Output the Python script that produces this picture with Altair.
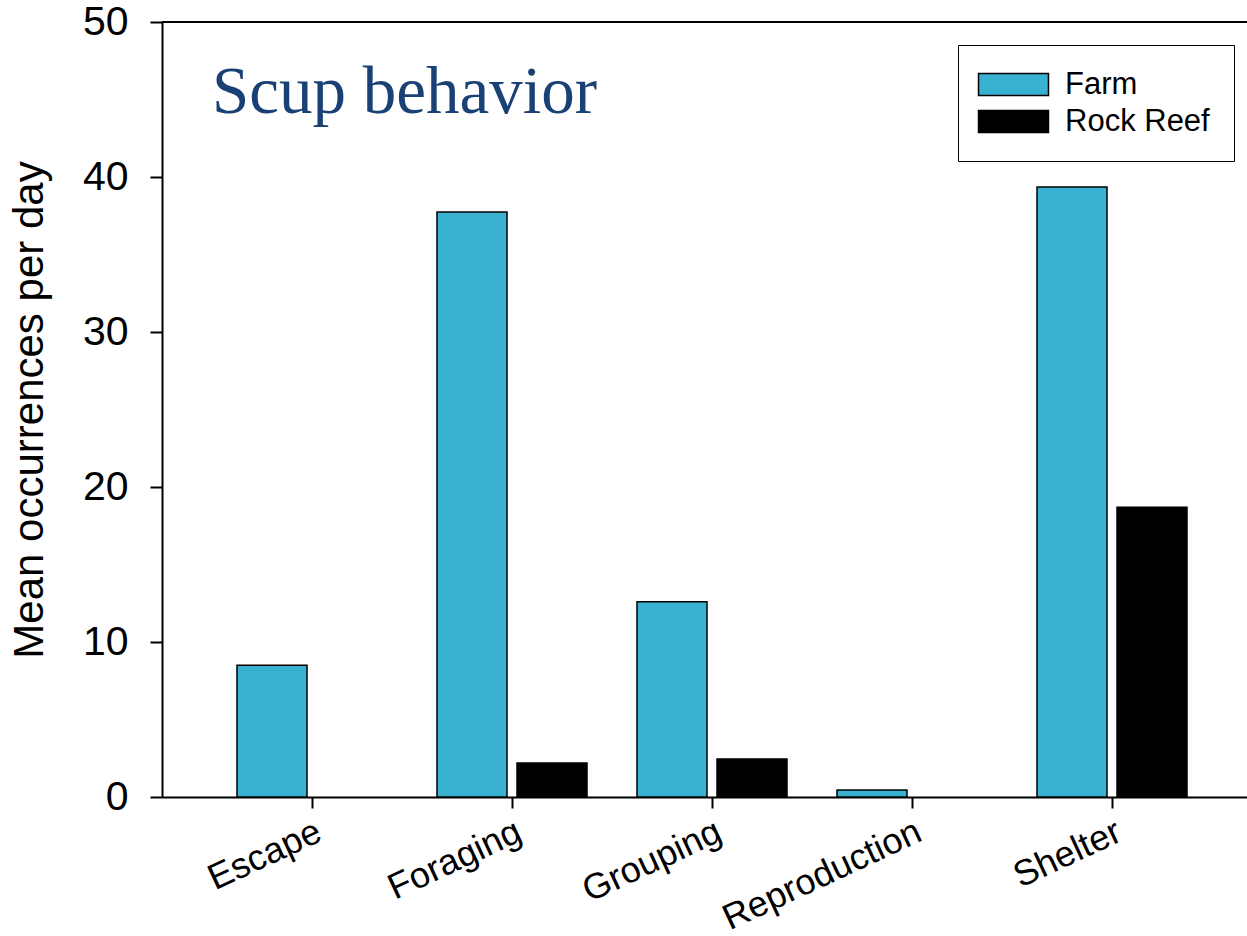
import altair as alt
import pandas as pd

categories = ["Escape", "Foraging", "Grouping", "Reproduction", "Shelter"]
series = ["Farm", "Rock Reef"]
farm = [8.5, 37.75, 12.6, 0.45, 39.35]
rock = [0, 2.2, 2.45, 0, 18.7]
y_ticks = [0, 10, 20, 30, 40, 50]
colors = ["#39b1d1", "#000000"]

rows = []
for c, f, r in zip(categories, farm, rock):
    rows.append({"behavior": c, "site": "Farm", "value": f})
    rows.append({"behavior": c, "site": "Rock Reef", "value": r})
df = pd.DataFrame(rows)

W, H = 1085, 775

bars = alt.Chart(df).transform_filter("datum.value > 0").mark_bar(
    stroke="black", strokeWidth=1.5
).encode(
    x=alt.X(
        "behavior:N",
        sort=categories,
        scale=alt.Scale(paddingInner=0.25, paddingOuter=0.3375, align=0.5556),
        axis=alt.Axis(
            title=None, labelAngle=-25, labelFontSize=36, labelAlign="right",
            labelBaseline="top", tickSize=11, labelPadding=6, labelLimit=500,
        ),
    ),
    xOffset=alt.XOffset("site:N", sort=series,
                        scale=alt.Scale(paddingInner=0.125, paddingOuter=0)),
    y=alt.Y(
        "value:Q",
        scale=alt.Scale(domain=[0, 50], nice=False),
        axis=alt.Axis(values=y_ticks, title="Mean occurrences per day", grid=False,
                      labelFontSize=41, tickSize=12, labelPadding=22,
                      titleFontSize=42, titlePadding=31, titleFontWeight="normal"),
    ),
    color=alt.Color(
        "site:N",
        scale=alt.Scale(domain=series, range=colors),
        legend=alt.Legend(
            title=None, orient="none", legendX=796, legendY=23,
            symbolType="M-3.18,-1H3.18V1H-3.18Z", symbolSize=484,
            symbolStrokeColor="black", symbolStrokeWidth=1.5, symbolOpacity=1,
            symbolOffset=16, labelOffset=36,
            labelFontSize=31, strokeColor="black", padding=24,
            rowPadding=5, fillColor="white",
        ),
    ),
)

top_line = alt.Chart(pd.DataFrame({"v": [50]})).mark_rule(color="black", strokeWidth=2).encode(
    y=alt.Y("v:Q")
)

title = alt.Chart(pd.DataFrame({"t": ["Scup behavior"]})).mark_text(
    font="Liberation Serif", fontSize=67, color="#1a4175", align="left", baseline="alphabetic"
).encode(x=alt.value(50), y=alt.value(91), text="t:N")

chart = alt.layer(bars, top_line, title).properties(
    width=W, height=H,
    padding={"left": 162, "top": 22, "right": 0, "bottom": 139},
    autosize=alt.AutoSizeParams(type="none"),
).configure_view(strokeWidth=0).configure_axis(
    domainColor="black", domainWidth=2, tickColor="black", tickWidth=2,
    labelColor="black", titleColor="black",
    labelFont="Liberation Sans", titleFont="Liberation Sans",
).configure_legend(labelFont="Liberation Sans", labelColor="black")

chart.save("out.html", embed_options={"renderer": "svg", "actions": False})
